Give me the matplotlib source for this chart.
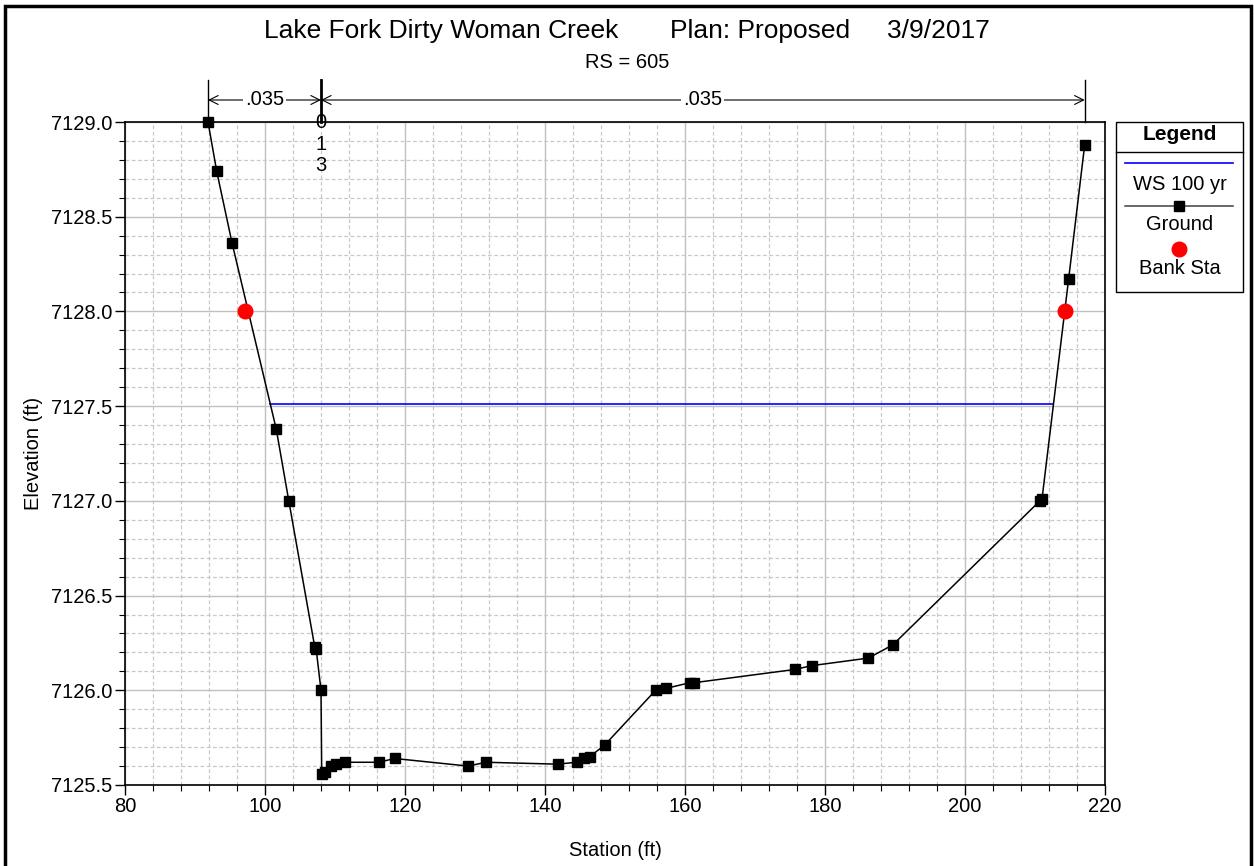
import matplotlib
matplotlib.use("Agg")
from matplotlib import pyplot as plt
from matplotlib.lines import Line2D
from matplotlib.patches import Rectangle
import matplotlib.transforms as mtransforms
import numpy as np

plt.rcParams['font.family'] = ['Liberation Sans', 'DejaVu Sans']

# ground profile (station ft, elevation ft)
station = [91.86, 93.1, 95.3, 101.6, 103.4, 107.1, 107.3, 108.0, 108.1, 108.6,
           109.4, 110.2, 111.4, 116.3, 118.5, 129.0, 131.6, 141.8, 144.5, 145.5,
           146.4, 148.5, 155.8, 157.3, 160.7, 161.3, 175.7, 178.1, 186.2, 189.7,
           210.7, 211.0, 214.8, 217.1]
elevation = [7129.0, 7128.74, 7128.36, 7127.38, 7127.0, 7126.23, 7126.22, 7126.0, 7125.56, 7125.57,
             7125.60, 7125.61, 7125.62, 7125.62, 7125.64, 7125.60, 7125.62, 7125.61, 7125.62, 7125.64,
             7125.65, 7125.71, 7126.0, 7126.01, 7126.04, 7126.04, 7126.11, 7126.13, 7126.17, 7126.24,
             7127.0, 7127.01, 7128.17, 7128.88]

bank_sta = [97.1, 214.3]
bank_elev = [7128.0, 7128.0]

ws_elev = 7127.51

n_breaks = [91.86, 108.0, 217.1]
n_values = ['.035', '.035']

title = "Lake Fork Dirty Woman Creek       Plan: Proposed     3/9/2017"
subtitle = "RS = 605"

# water surface extent = where it meets the ground on each side
st = np.array(station)
el = np.array(elevation)
imin = int(np.argmin(el))
ws_left = np.interp(ws_elev, el[:imin + 1][::-1], st[:imin + 1][::-1])
ws_right = np.interp(ws_elev, el[imin:], st[imin:])

fig = plt.figure(figsize=(12.54, 8.66), dpi=100)
ax = fig.add_axes([125 / 1254, 1 - 785 / 866, 980 / 1254, 663 / 866])

ax.set_xlim(80, 220)
ax.set_ylim(7125.5, 7129.0)
ax.set_xticks(np.arange(80, 221, 20))
ax.set_xticks(np.arange(80, 221, 4), minor=True)
ax.set_yticks(np.arange(7125.5, 7129.01, 0.5))
ax.set_yticks(np.arange(7125.5, 7129.01, 0.1), minor=True)
ax.yaxis.set_major_formatter(matplotlib.ticker.FormatStrFormatter('%.1f'))
ax.grid(True, which='major', color='#c0c0c0', lw=1.0, ls='-')
ax.grid(True, which='minor', color='#c8c8c8', lw=0.9, ls=(0, (3, 2)))
ax.set_axisbelow(True)
ax.tick_params(which='major', length=7, width=1, labelsize=14.5, direction='out', pad=2)
ax.tick_params(which='minor', length=4, width=0.8, direction='out')
for s in ax.spines.values():
    s.set_linewidth(1.2)

ax.plot([ws_left, ws_right], [ws_elev, ws_elev], color='#0000ff', lw=1.2, zorder=3)
ax.plot(station, elevation, color='black', lw=1.1, marker='s', ms=7, zorder=4, clip_on=False)
ax.plot(bank_sta, bank_elev, ls='none', marker='o', color='#ff0000', ms=10.5, zorder=5)

ax.set_xlabel("Station (ft)", fontsize=14.5, labelpad=18)
ax.set_ylabel("Elevation (ft)", fontsize=14.5, labelpad=6)

# n-value dimension lines above the plot
trans = mtransforms.blended_transform_factory(ax.transData, ax.transAxes)
y_dim = (785 - 100) / 663
y_top = (785 - 80) / 663
for i, xb in enumerate(n_breaks):
    lw = 2.0 if 0 < i < len(n_breaks) - 1 else 1.0
    ax.plot([xb, xb], [1.0, y_top], color='black', lw=lw, transform=trans, clip_on=False)
for i, nv in enumerate(n_values):
    x0, x1 = n_breaks[i], n_breaks[i + 1]
    ax.annotate('', xy=(x0, y_dim), xytext=(x1, y_dim), xycoords=trans, textcoords=trans,
                arrowprops=dict(arrowstyle='<->', color='black', lw=0.8,
                                shrinkA=0, shrinkB=0, mutation_scale=16))
    ax.text((x0 + x1) / 2, y_dim, nv, transform=trans, ha='center', va='center',
            fontsize=14.5, bbox=dict(facecolor='white', edgecolor='none', pad=1.5))

ax.text(n_breaks[1], 1.013, "0\n1\n3", transform=trans, ha='center', va='top',
        fontsize=14.5, linespacing=1.17, zorder=6)

fig.text(627 / 1254, 1 - 31 / 866, title, ha='center', va='center', fontsize=19)
fig.text(627 / 1254, 1 - 62 / 866, subtitle, ha='center', va='center', fontsize=14.5)

# legend box drawn by hand
def fx(px):
    return px / 1254

def fy(py):
    return 1 - py / 866

fig.add_artist(Rectangle((fx(1116), fy(292)), fx(1243) - fx(1116), fy(122) - fy(292),
                         transform=fig.transFigure, fill=False, ec='black', lw=1.0))
fig.add_artist(Line2D([fx(1116), fx(1243)], [fy(152), fy(152)], transform=fig.transFigure,
                      color='black', lw=1.0))
fig.text(fx(1180), fy(135), "Legend", ha='center', va='center', fontsize=15, fontweight='bold')
fig.add_artist(Line2D([fx(1125), fx(1233)], [fy(163), fy(163)], transform=fig.transFigure,
                      color='#0000ff', lw=1.2))
fig.text(fx(1180), fy(184), "WS 100 yr", ha='center', va='center', fontsize=14.5)
fig.add_artist(Line2D([fx(1125), fx(1233)], [fy(206), fy(206)], transform=fig.transFigure,
                      color='#404040', lw=1.1))
fig.add_artist(Line2D([fx(1179)], [fy(206)], transform=fig.transFigure,
                      color='black', marker='s', ms=6.5, ls='none'))
fig.text(fx(1180), fy(225), "Ground", ha='center', va='center', fontsize=14.5)
fig.add_artist(Line2D([fx(1179)], [fy(249)], transform=fig.transFigure,
                      color='#ff0000', marker='o', ms=10.5, ls='none'))
fig.text(fx(1180), fy(268), "Bank Sta", ha='center', va='center', fontsize=14.5)

# outer frame
fig.add_artist(Rectangle((fx(5), fy(880)), fx(1251) - fx(5), fy(6) - fy(880),
                         transform=fig.transFigure, fill=False, ec='black', lw=2.5,
                         clip_on=False))

fig.savefig("out.png", dpi=100)
